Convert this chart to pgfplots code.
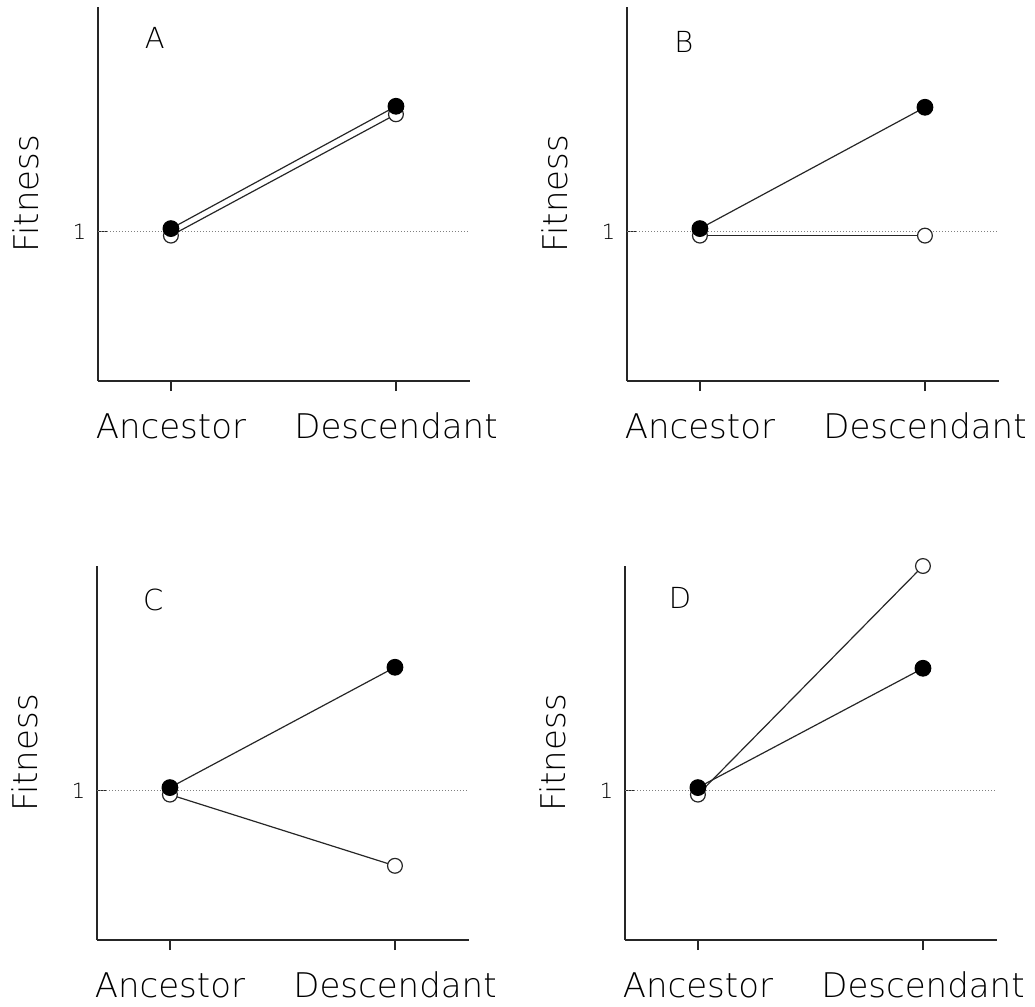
\documentclass[border=0pt]{standalone}
\usepackage{fontspec}
\setmainfont{DejaVu Sans ExtraLight}
\usepackage{pgfplots}
\pgfplotsset{compat=1.18}
\pgfplotsset{
  panel/.style={
    scale only axis, width=186pt, height=187pt,
    xmin=-0.324, xmax=1.329, ymin=-0.192, ymax=2.792,
    clip=false,
    axis x line=bottom, axis y line=left,
    axis line style={-, line width=0.75pt, black!85},
    xtick={0,1}, xticklabels={Ancestor,Descendant},
    ytick={1}, yticklabels={1},
    xtick align=outside, ytick align=inside,
    major tick length=5pt,
    every tick/.style={line width=0.6pt, black!85},
    /pgf/number format/assume math mode=true,
    xticklabel style={font=\fontsize{17}{20}\selectfont, inner sep=0pt, anchor=base, yshift=-23.5pt},
    yticklabel style={font=\fontsize{10.5}{12}\selectfont, xshift=-2.4pt},
    ylabel={Fitness},
    every axis y label/.style={at={(axis description cs:-0.161,0.5)}, rotate=90, anchor=base, inner sep=0pt, font=\fontsize{17}{20}\selectfont},
  },
  refline/.style={gray, line width=0.5pt, dash pattern=on 0.6pt off 0.9pt, no marks},
  openser/.style={black!85, line width=0.6pt, mark=*, mark size=3.7pt, mark options={fill=white, draw=black!85, line width=0.6pt}},
  fillser/.style={black!85, line width=0.6pt, mark=*, mark size=3.9pt, mark options={fill=black, draw=black}},
}
\begin{document}
\begin{tikzpicture}
\useasboundingbox (0,0) rectangle (517.5pt,-503.5pt);
% Panel A
\begin{axis}[panel, at={(49pt,-190.5pt)}, anchor=south west]
\addplot[refline] coordinates {(-0.324,1) (1.329,1)};
\addplot[openser] coordinates {(0,0.968) (1,1.936)};
\addplot[fillser] coordinates {(0,1.024) (1,2.0)};
\node[font=\fontsize{14.5}{16}\selectfont, anchor=center] at (axis description cs:0.153,0.918) {A};
\end{axis}
% Panel B
\begin{axis}[panel, at={(313.5pt,-190.5pt)}, anchor=south west]
\addplot[refline] coordinates {(-0.324,1) (1.329,1)};
\addplot[openser] coordinates {(0,0.968) (1,0.968)};
\addplot[fillser] coordinates {(0,1.024) (1,1.992)};
\node[font=\fontsize{14.5}{16}\selectfont, anchor=center] at (axis description cs:0.153,0.906) {B};
\end{axis}
% Panel C
\begin{axis}[panel, at={(48.5pt,-470pt)}, anchor=south west]
\addplot[refline] coordinates {(-0.324,1) (1.329,1)};
\addplot[openser] coordinates {(0,0.968) (1,0.40)};
\addplot[fillser] coordinates {(0,1.024) (1,1.984)};
\node[font=\fontsize{14.5}{16}\selectfont, anchor=center] at (axis description cs:0.151,0.909) {C};
\end{axis}
% Panel D
\begin{axis}[panel, at={(312.5pt,-470pt)}, anchor=south west]
\addplot[refline] coordinates {(-0.324,1) (1.329,1)};
\addplot[openser] coordinates {(0,0.968) (1,2.792)};
\addplot[fillser] coordinates {(0,1.024) (1,1.976)};
\node[font=\fontsize{14.5}{16}\selectfont, anchor=center] at (axis description cs:0.148,0.914) {D};
\end{axis}
\end{tikzpicture}
\end{document}
